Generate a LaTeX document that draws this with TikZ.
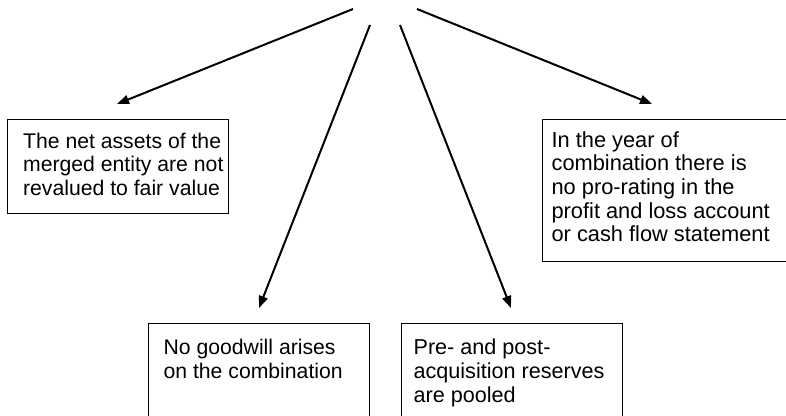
\documentclass[tikz,border=0pt]{standalone}
\usepackage{fontspec}
\setmainfont{Liberation Sans}
\usetikzlibrary{arrows.meta}

% text panel: #1 width, #2 height, #3 left indent, #4 first baseline, #5 font size, #6 lines
\newcommand{\paneltext}[6]{%
  \begin{minipage}[t][#2][t]{#1}%
    \raggedright\leftskip=#3\relax
    \fontsize{#5}{23.7pt}\selectfont
    \rule{0pt}{#4}#6%
  \end{minipage}}

\tikzset{
  panel/.style={draw=black, line width=1.2pt, inner sep=0pt, anchor=north west},
  flow/.style={line width=2pt, -{Triangle[length=12pt,width=9pt]}}
}

\begin{document}
\begin{tikzpicture}[x=1pt,y=-1pt]
  \useasboundingbox (0,0) rectangle (786,415);
  \clip (0,0) rectangle (786,415);

  % outcome panels
  \node[panel] (netassets) at (7,119)
    {\paneltext{221pt}{94pt}{15.5pt}{28.5pt}{21.2pt}{The net assets of the\\merged entity are not\\revalued to fair value}};
  \node[panel] (proRating) at (542,119)
    {\paneltext{260pt}{142pt}{9pt}{27.5pt}{21.8pt}{In the year of\\combination there is\\no pro-rating in the\\profit and loss account\\or cash flow statement}};
  \node[panel] (goodwill) at (148,323)
    {\paneltext{221pt}{120pt}{15pt}{31pt}{21.2pt}{No goodwill arises\\on the combination}};
  \node[panel] (reserves) at (401,323)
    {\paneltext{221pt}{120pt}{12pt}{31pt}{21.6pt}{Pre- and post-\\acquisition reserves\\are pooled}};

  % arrow ends
  \coordinate (s1) at (353,9);   \coordinate (t1) at (117,104);
  \coordinate (s2) at (370,25);  \coordinate (t2) at (259,308);
  \coordinate (s3) at (400,25);  \coordinate (t3) at (511,308);
  \coordinate (s4) at (417,9);   \coordinate (t4) at (652,104);

  \draw[flow] (s1) -- (t1);
  \draw[flow] (s2) -- (t2);
  \draw[flow] (s3) -- (t3);
  \draw[flow] (s4) -- (t4);
\end{tikzpicture}
\end{document}
